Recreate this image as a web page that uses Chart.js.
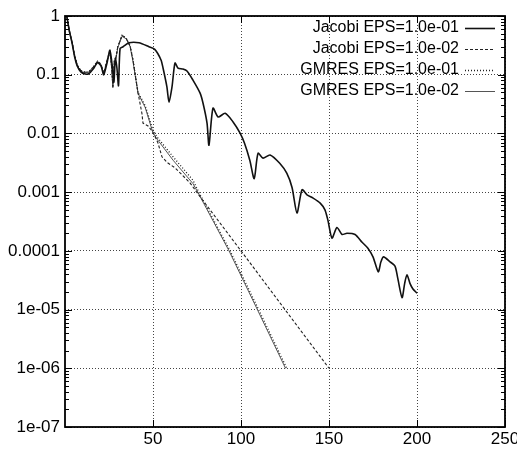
<!DOCTYPE html>
<html>
<head>
<meta charset="utf-8">
<script src="https://cdn.jsdelivr.net/npm/chart.js@4.4.0/dist/chart.umd.min.js"></script>
<style>
  html, body { margin: 0; padding: 0; background: #fff; }
  #wrap { position: relative; width: 517px; height: 449px; }
</style>
</head>
<body>
<div id="wrap"><canvas id="chart" width="517" height="449"></canvas></div>
<script>
// tick positions and labels
const xTicks = [50, 100, 150, 200, 250];
const yTickValues = [1e-7, 1e-6, 1e-5, 1e-4, 1e-3, 1e-2, 1e-1, 1];
const yTickLabels = ['1e-07', '1e-06', '1e-05', '0.0001', '0.001', '0.01', '0.1', '1'];

const seriesLabels = ['Jacobi EPS=1.0e-01', 'Jacobi EPS=1.0e-02', 'GMRES EPS=1.0e-01', 'GMRES EPS=1.0e-02'];

// Jacobi EPS=1.0e-01 (solid)
const jac1X = [1, 2.5, 4, 5.5, 7, 9, 11.5, 13.5, 16, 18.5, 20.5, 22, 24, 25.5, 27, 27.8, 28.6, 29.5, 30.4, 31.3, 33, 36.4, 42, 47.7, 51, 54.5, 55.7, 57.9, 59.1, 60.8, 62.5, 64.2, 67, 69.3, 72.7, 76.7, 78.4, 80.7, 81.8, 84.1, 87, 91, 95.5, 99.4, 102, 105, 107.5, 109.7, 112.5, 116.5, 122, 126, 129, 131.8, 134.7, 137.5, 141, 145, 147.7, 149.4, 151.7, 154.5, 157.4, 160.2, 164.8, 168.8, 172, 175, 178, 179.5, 181, 184.7, 187.5, 189, 191.5, 193, 194.3, 196, 197.7, 200];
const jac1Y = [1.0, 0.55, 0.35, 0.2, 0.14, 0.112, 0.103, 0.104, 0.125, 0.16, 0.14, 0.1, 0.165, 0.26, 0.13, 0.075, 0.19, 0.13, 0.065, 0.28, 0.3, 0.35, 0.35, 0.3, 0.27, 0.18, 0.13, 0.062, 0.034, 0.062, 0.158, 0.13, 0.125, 0.116, 0.081, 0.049, 0.033, 0.015, 0.0063, 0.027, 0.019, 0.022, 0.0157, 0.0102, 0.0068, 0.0035, 0.0017, 0.0046, 0.0038, 0.0043, 0.0031, 0.0021, 0.0012, 0.00044, 0.0011, 0.0009, 0.00079, 0.00065, 0.0005, 0.00033, 0.000165, 0.00025, 0.00019, 0.0002, 0.00019, 0.00014, 0.000112, 0.000079, 0.000044, 0.000065, 0.000079, 0.000065, 0.000055, 0.000035, 0.000016, 0.000028, 0.000039, 0.000028, 0.0000224, 0.000019];

// Jacobi EPS=1.0e-02 (dashed)
const jac2X = [1, 2.5, 4, 5.5, 7, 9, 11.5, 13.5, 16, 18.5, 20.5, 22, 24, 25.5, 26.5, 27.2, 28, 29, 30, 32.4, 34.7, 37, 38.6, 41.5, 43.7, 44.3, 47.2, 50, 52.8, 55.1, 58, 62.5, 71, 75.6, 100, 150];
const jac2Y = [1.0, 0.56, 0.36, 0.21, 0.145, 0.118, 0.11, 0.112, 0.135, 0.17, 0.15, 0.105, 0.18, 0.25, 0.14, 0.062, 0.17, 0.2, 0.3, 0.47, 0.42, 0.31, 0.18, 0.049, 0.022, 0.015, 0.0134, 0.0105, 0.0069, 0.004, 0.0032, 0.0026, 0.00144, 0.00093, 0.0001, 0.000001];

// GMRES EPS=1.0e-01 (dotted)
const gm1X = [1, 2.5, 4, 5.5, 7, 9, 11.5, 13.5, 16, 18.5, 20.5, 22, 24, 25.5, 26.5, 27.2, 28, 29, 30, 32.4, 34.7, 37, 38.6, 41.5, 45.5, 50, 52.3, 61.4, 72.7, 76, 93.8, 110, 126];
const gm1Y = [1.0, 0.56, 0.36, 0.21, 0.145, 0.118, 0.11, 0.112, 0.135, 0.17, 0.15, 0.105, 0.18, 0.25, 0.14, 0.062, 0.17, 0.2, 0.3, 0.47, 0.42, 0.31, 0.18, 0.05, 0.03, 0.0114, 0.0087, 0.004, 0.0016, 0.001, 0.0001, 0.00001, 0.000001];

// GMRES EPS=1.0e-02 (thin)
const gm2X = [1, 2.5, 4, 5.5, 7, 9, 11.5, 13.5, 16, 18.5, 20.5, 22, 24, 25.5, 26.5, 27.2, 28, 29, 30, 32.4, 34.7, 37, 38.6, 41.5, 45.5, 50, 52.3, 61.4, 72.7, 76, 93.2, 109.3, 125.3];
const gm2Y = [1.0, 0.55, 0.355, 0.205, 0.142, 0.115, 0.107, 0.109, 0.13, 0.165, 0.145, 0.102, 0.175, 0.245, 0.13, 0.06, 0.16, 0.19, 0.29, 0.45, 0.41, 0.3, 0.17, 0.048, 0.028, 0.0102, 0.008, 0.0035, 0.0014, 0.00093, 0.0001, 0.00001, 0.000001];

const pts = (xs, ys) => xs.map((x, i) => ({ x: x, y: ys[i] }));

const FONT = "'Liberation Sans', Arial, Helvetica, sans-serif";

// frame, inner ticks and legend drawn on top of the plot
const framePlugin = {
  id: 'frame',
  afterDraw(chart) {
    const { ctx, chartArea: a, scales: { x, y } } = chart;
    ctx.save();
    ctx.strokeStyle = '#000';
    ctx.lineWidth = 1;
    ctx.setLineDash([]);
    ctx.beginPath();
    yTickValues.forEach(v => {
      const py = Math.round(y.getPixelForValue(v)) + 0.5;
      ctx.moveTo(a.left, py); ctx.lineTo(a.left + 7, py);
      ctx.moveTo(a.right, py); ctx.lineTo(a.right - 7, py);
      for (let d = 2; d < 10; d++) {
        if (v * d > 1) break;
        const my = Math.round(y.getPixelForValue(v * d)) + 0.5;
        ctx.moveTo(a.left, my); ctx.lineTo(a.left + 4, my);
        ctx.moveTo(a.right, my); ctx.lineTo(a.right - 4, my);
      }
    });
    xTicks.forEach(v => {
      const px = Math.round(x.getPixelForValue(v)) + 0.5;
      ctx.moveTo(px, a.bottom); ctx.lineTo(px, a.bottom - 7);
      ctx.moveTo(px, a.top); ctx.lineTo(px, a.top + 7);
    });
    ctx.stroke();

    ctx.lineWidth = 1.8;
    ctx.strokeRect(a.left, a.top, a.right - a.left, a.bottom - a.top);

    // legend
    ctx.font = '16px ' + FONT;
    ctx.textAlign = 'right';
    ctx.textBaseline = 'middle';
    chart.data.datasets.forEach((ds, i) => {
      const ry = 28 + i * 21;
      ctx.fillStyle = '#000';
      ctx.fillText(ds.label, 459, ry);
      ctx.beginPath();
      ctx.setLineDash(ds.borderDash || []);
      ctx.lineWidth = ds.borderWidth;
      ctx.strokeStyle = ds.borderColor;
      ctx.moveTo(465, ry + 0.5);
      ctx.lineTo(495, ry + 0.5);
      ctx.stroke();
    });
    ctx.restore();
  }
};

new Chart(document.getElementById('chart'), {
  type: 'line',
  data: {
    datasets: [
      { label: seriesLabels[0], data: pts(jac1X, jac1Y), borderColor: '#111', borderWidth: 1.6, borderDash: [], tension: 0.25 },
      { label: seriesLabels[1], data: pts(jac2X, jac2Y), borderColor: '#222', borderWidth: 1.1, borderDash: [3, 2] },
      { label: seriesLabels[2], data: pts(gm1X, gm1Y), borderColor: '#222', borderWidth: 1.3, borderDash: [1, 2] },
      { label: seriesLabels[3], data: pts(gm2X, gm2Y), borderColor: '#555', borderWidth: 1, borderDash: [] }
    ]
  },
  options: {
    responsive: false,
    devicePixelRatio: 1,
    animation: false,
    layout: { padding: { left: 0, right: 12, top: 16, bottom: 0 } },
    elements: {
      point: { radius: 0 },
      line: { tension: 0, fill: false }
    },
    plugins: { legend: { display: false }, tooltip: { enabled: false } },
    scales: {
      x: {
        type: 'linear',
        min: 0,
        max: 250,
        afterBuildTicks: s => { s.ticks = xTicks.map(v => ({ value: v })); },
        afterFit: s => { s.height = 22; s.paddingLeft = 0; s.paddingRight = 0; },
        ticks: { color: '#000', font: { family: FONT, size: 17 }, padding: 2, autoSkip: false, maxRotation: 0, callback: v => String(v) },
        grid: { color: '#444', lineWidth: 1, drawTicks: false },
        border: { display: false, dash: [1, 2] }
      },
      y: {
        type: 'logarithmic',
        min: 1e-7,
        max: 1,
        afterBuildTicks: s => { s.ticks = yTickValues.map(v => ({ value: v })); },
        afterFit: s => { s.width = 65; s.paddingTop = 0; s.paddingBottom = 0; },
        ticks: { color: '#000', font: { family: FONT, size: 17 }, padding: 5, autoSkip: false, callback: (v, i) => yTickLabels[i] },
        grid: { color: '#444', lineWidth: 1, drawTicks: false },
        border: { display: false, dash: [1, 2] }
      }
    }
  },
  plugins: [framePlugin]
});
</script>
</body>
</html>
